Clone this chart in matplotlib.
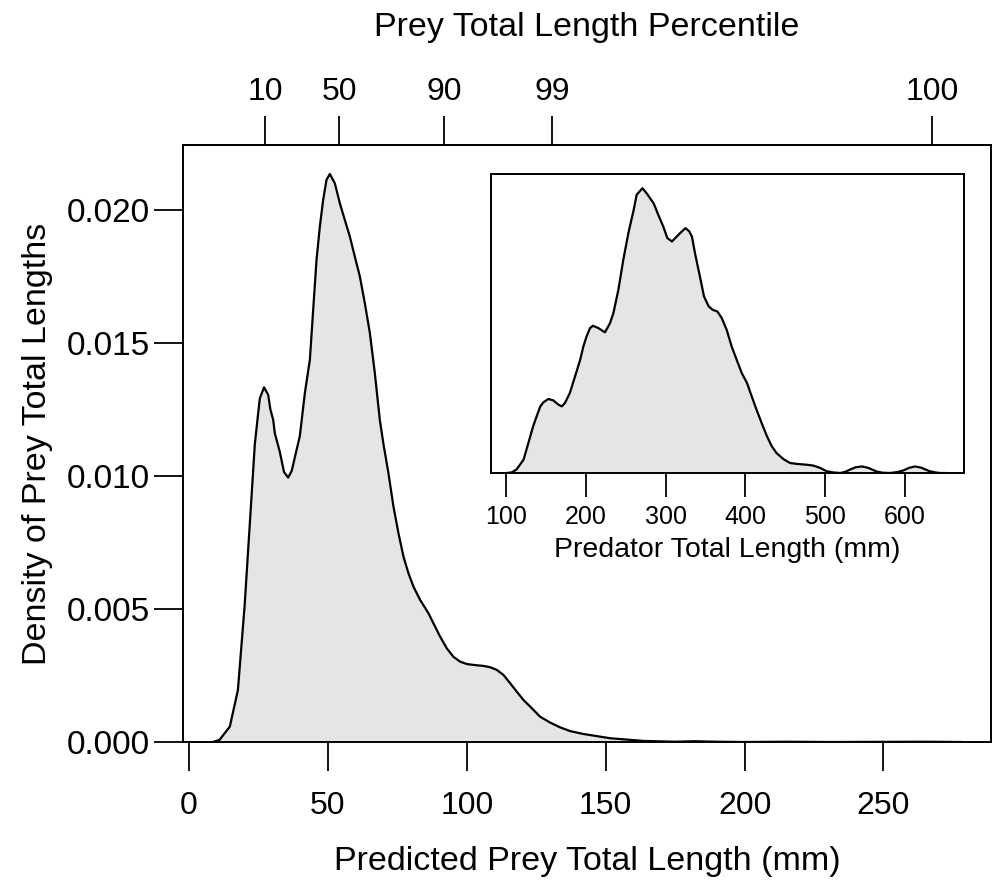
import numpy as np
import matplotlib
matplotlib.use("Agg")
import matplotlib.pyplot as plt

plt.rcParams['font.family'] = ['Liberation Sans', 'DejaVu Sans']

# density of predicted prey total length (mm)
prey_len = [8.6, 11.0, 14.7, 17.6, 20.0, 21.9, 23.7, 24.9, 25.5, 27.0, 28.5,
            29.3, 30.3, 30.9, 32.7, 34.2, 35.7, 37.0, 38.1, 39.9, 41.7, 43.5,
            44.7, 45.9, 47.1, 48.3, 49.5, 50.7, 52.5, 54.3, 56.1, 57.9, 59.7,
            61.5, 63.3, 65.1, 66.9, 68.7, 70.0, 71.8, 73.6, 75.4, 77.2, 79.0,
            80.8, 83.2, 86.2, 88.0, 90.4, 92.8, 95.2, 97.6, 100.0, 103.0, 106.0,
            108.4, 110.8, 113.2, 115.6, 118.0, 120.4, 123.4, 126.4, 130.0,
            133.6, 137.2, 142.0, 151.7, 163.7, 175.0, 182.0, 190.0, 200.0,
            215.0, 230.0, 265.0, 278.0]
prey_dens = [0.0, 0.00008, 0.00058, 0.00195, 0.00509, 0.00822, 0.01120, 0.01236,
             0.01292, 0.01333, 0.01305, 0.01250, 0.01211, 0.01160, 0.01090,
             0.01015, 0.00994, 0.01020, 0.01070, 0.01150, 0.01311, 0.01436,
             0.01624, 0.01812, 0.01937, 0.02038, 0.02113, 0.02135, 0.02100,
             0.02025, 0.01962, 0.01900, 0.01824, 0.01750, 0.01649, 0.01538,
             0.01386, 0.01210, 0.01120, 0.01010, 0.00885, 0.00785, 0.00697,
             0.00634, 0.00584, 0.00534, 0.00484, 0.00446, 0.00396, 0.00352,
             0.00320, 0.00302, 0.00293, 0.00289, 0.00286, 0.00281, 0.00271,
             0.00252, 0.00221, 0.00189, 0.00158, 0.00127, 0.00095, 0.00073,
             0.00055, 0.00041, 0.00030, 0.00014, 0.00004, 0.00001, 0.00003,
             0.00001, 0.0, 0.00001, 0.0, 0.00001, 0.0]

# percentiles of prey length shown on top axis
pct_labels = ['10', '50', '90', '99', '100']
pct_values = [27.4, 54.0, 91.9, 130.7, 267.5]

# inset: predator total length density (relative to peak, no y scale shown)
pred_len = [100.8, 107, 113, 117.5, 122, 128, 134, 138.4, 143, 146.8, 153, 159.3,
            165.6, 170, 173.9, 180, 186.5, 193, 196.9, 201, 205.3, 209, 215.7,
            224, 230.3, 234.5, 240.8, 247, 253.3, 260, 263.7, 271, 276.3, 285,
            290.9, 297, 302.2, 308, 313.9, 318, 325, 329.7, 333, 336.8, 343,
            348.1, 354, 359, 365, 370.3, 376.5, 382.8, 389, 395.4, 402, 407.9,
            414, 420.4, 427, 433, 439, 447.5, 456, 464.2, 477, 485, 493.5, 502,
            510.2, 518.5, 525, 531, 538, 546, 554, 564.5, 572, 581, 590, 598,
            605, 612.5, 620, 631, 638, 644, 652]
pred_rel = [0.0, 0.002, 0.012, 0.029, 0.047, 0.105, 0.164, 0.199, 0.234, 0.248,
            0.260, 0.255, 0.240, 0.234, 0.246, 0.281, 0.339, 0.398, 0.444, 0.480,
            0.509, 0.517, 0.509, 0.494, 0.526, 0.561, 0.643, 0.749, 0.842, 0.924,
            0.977, 1.0, 0.982, 0.947, 0.906, 0.866, 0.825, 0.813, 0.830, 0.842,
            0.860, 0.848, 0.830, 0.772, 0.690, 0.620, 0.585, 0.573, 0.567, 0.544,
            0.503, 0.444, 0.398, 0.351, 0.316, 0.269, 0.222, 0.175, 0.129, 0.094,
            0.070, 0.049, 0.035, 0.032, 0.029, 0.026, 0.018, 0.006, 0.002, 0.0,
            0.004, 0.012, 0.020, 0.023, 0.018, 0.005, 0.001, 0.0, 0.003, 0.009,
            0.018, 0.023, 0.019, 0.006, 0.002, 0.0, 0.0]

fill_col = '#E5E5E5'
W, H = 996, 882
fig = plt.figure(figsize=(W / 100, H / 100), dpi=100)

# main panel
ax = fig.add_axes([183 / W, 1 - 742 / H, (991 - 183) / W, (742 - 145) / H])
ax.fill_between(prey_len, prey_dens, color=fill_col, lw=0)
ax.plot(prey_len, prey_dens, color='black', lw=1.6, solid_joinstyle='round')
ax.set_xlim(-2.16, 288.7)
ax.set_ylim(0, 0.02244)
ax.set_xticks([0, 50, 100, 150, 200, 250])
ax.set_yticks([0, 0.005, 0.010, 0.015, 0.020])
ax.set_yticklabels(['0.000', '0.005', '0.010', '0.015', '0.020'])
ax.tick_params(axis='both', labelsize=23, length=21, width=1.3, direction='out')
ax.tick_params(axis='x', pad=14)
ax.tick_params(axis='y', labelsize=24, pad=3)
for s in ax.spines.values():
    s.set_linewidth(1.4)
ax.set_xlabel('Predicted Prey Total Length (mm)', fontsize=24.5, labelpad=18)
ax.set_ylabel('Density of Prey Total Lengths', fontsize=24.5, labelpad=10)

top = ax.secondary_xaxis('top')
top.set_xticks(pct_values)
top.set_xticklabels(pct_labels)
top.tick_params(labelsize=23, length=21, width=1.3, pad=6)
top.spines['top'].set_linewidth(1.4)
top.set_xlabel('Prey Total Length Percentile', fontsize=24.5, labelpad=30)

# inset panel
ins = fig.add_axes([491 / W, 1 - 473 / H, (964 - 491) / W, (473 - 174) / H])
ins.fill_between(pred_len, pred_rel, color=fill_col, lw=0)
ins.plot(pred_len, pred_rel, color='black', lw=1.6, solid_joinstyle='round')
ins.set_xlim(81.2, 673.9)
ins.set_ylim(0, 1.05)
ins.set_yticks([])
ins.set_xticks([100, 200, 300, 400, 500, 600])
ins.tick_params(axis='x', labelsize=18, length=17, width=1.3, pad=6)
for s in ins.spines.values():
    s.set_linewidth(1.4)
ins.set_xlabel('Predator Total Length (mm)', fontsize=20.5, labelpad=6)

fig.savefig('out.png', dpi=100)
